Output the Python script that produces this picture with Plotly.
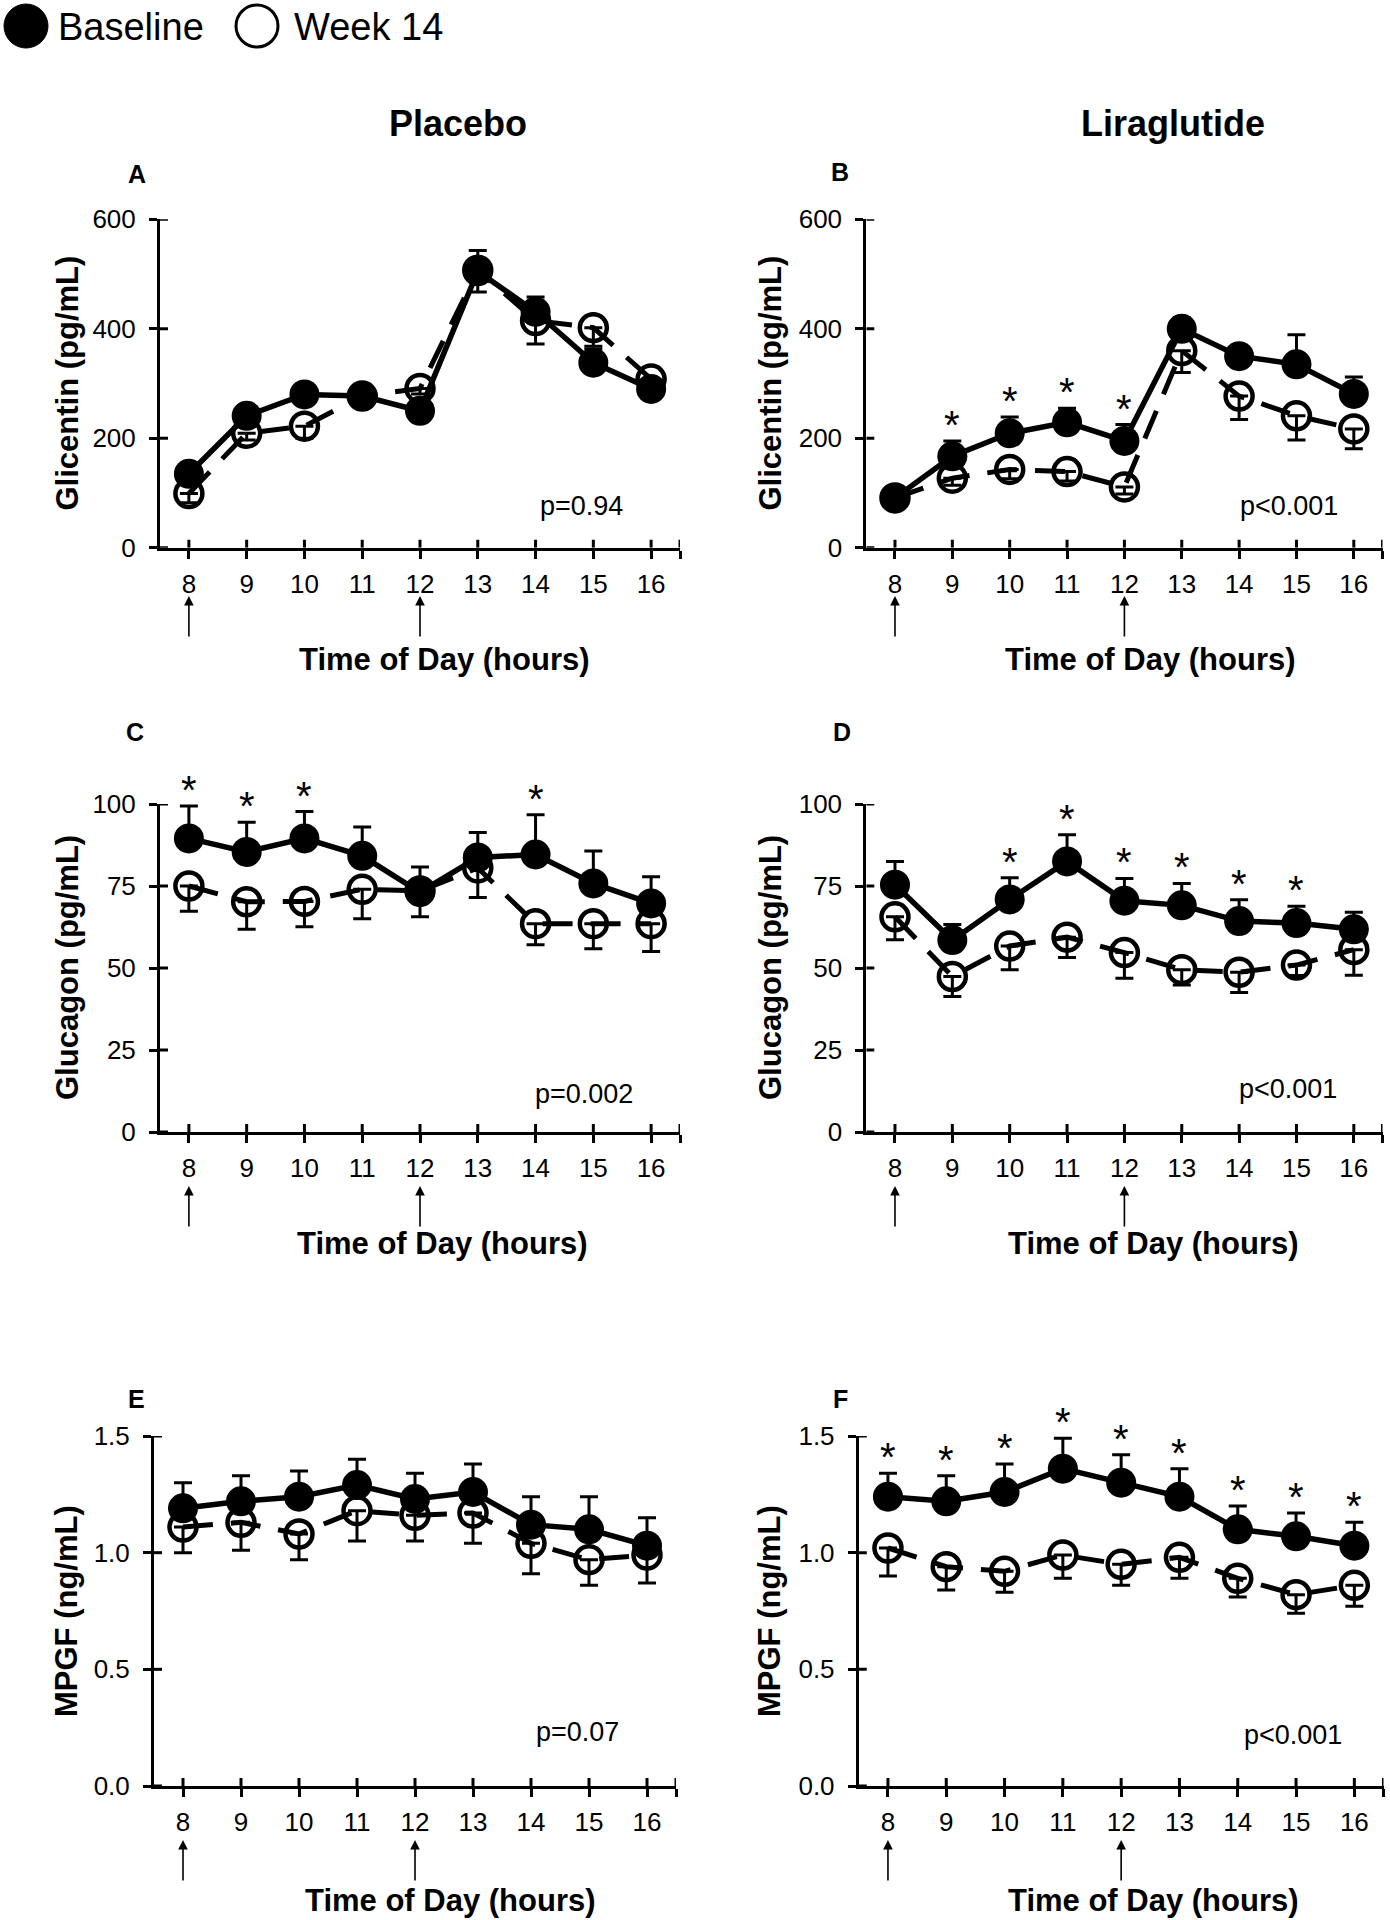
import plotly.graph_objects as go

# ---------------- data ----------------
hours = [8, 9, 10, 11, 12, 13, 14, 15, 16]
hour_labels = ["8", "9", "10", "11", "12", "13", "14", "15", "16"]

# Glicentin (pg/mL)
glic_pla_base = [135, 241, 280, 277, 250, 505, 431, 338, 290]
glic_pla_base_err = [12, 12, 20, 18, 10, 38, 27, 25, 15]
glic_pla_wk14 = [99, 209, 222, 277, 291, 507, 415, 402, 308]
glic_pla_wk14_err = [17, 12, 22, 10, 10, 40, 43, 34, 12]

glic_lira_base = [91, 167, 209, 229, 195, 400, 350, 335, 281]
glic_lira_base_err = [10, 28, 30, 26, 30, 20, 20, 54, 31]
glic_lira_wk14 = [91, 127, 143, 139, 111, 360, 277, 241, 217]
glic_lira_wk14_err = [8, 13, 17, 17, 13, 40, 43, 44, 36]

# Glucagon (pg/mL)
gluc_pla_base = [89.5, 85.4, 89.5, 84.2, 73.1, 83.7, 84.6, 75.8, 69.7]
gluc_pla_base_err = [9.9, 9.0, 8.2, 8.8, 7.7, 7.6, 12.1, 9.9, 8.1]
gluc_pla_wk14 = [75.0, 70.2, 70.3, 74.0, 73.5, 80.5, 63.5, 63.5, 63.5]
gluc_pla_wk14_err = [7.7, 8.4, 7.7, 9.0, 7.9, 9.0, 6.4, 7.6, 8.5]

gluc_lira_base = [75.4, 58.5, 70.9, 82.5, 70.5, 69.1, 64.3, 63.7, 61.8]
gluc_lira_base_err = [7.1, 4.8, 6.6, 8.1, 6.8, 6.7, 6.5, 5.1, 5.2]
gluc_lira_wk14 = [65.6, 47.4, 56.7, 59.4, 54.7, 49.5, 48.7, 50.9, 55.6]
gluc_lira_wk14_err = [7.0, 6.1, 7.2, 6.2, 7.8, 4.7, 6.2, 3.2, 7.8]

# MPGF (ng/mL)
mpgf_pla_base = [1.19, 1.22, 1.24, 1.29, 1.23, 1.26, 1.12, 1.10, 1.03]
mpgf_pla_base_err = [0.11, 0.11, 0.11, 0.11, 0.11, 0.12, 0.12, 0.14, 0.12]
mpgf_pla_wk14 = [1.11, 1.13, 1.08, 1.18, 1.16, 1.17, 1.04, 0.97, 0.99]
mpgf_pla_wk14_err = [0.11, 0.12, 0.11, 0.13, 0.11, 0.13, 0.13, 0.11, 0.12]

mpgf_lira_base = [1.24, 1.22, 1.26, 1.36, 1.30, 1.24, 1.10, 1.07, 1.03]
mpgf_lira_base_err = [0.10, 0.11, 0.12, 0.13, 0.12, 0.12, 0.10, 0.10, 0.10]
mpgf_lira_wk14 = [1.02, 0.94, 0.92, 0.99, 0.95, 0.98, 0.89, 0.82, 0.86]
mpgf_lira_wk14_err = [0.12, 0.10, 0.09, 0.10, 0.09, 0.09, 0.08, 0.08, 0.09]

# significance markers (hours with *) and p-values
stars_A = []
stars_B = [9, 10, 11, 12]
stars_C = [8, 9, 10, 14]
stars_D = [10, 11, 12, 13, 14, 15]
stars_E = []
stars_F = [8, 9, 10, 11, 12, 13, 14, 15, 16]
p_values = ["p=0.94", "p<0.001", "p=0.002", "p<0.001", "p=0.07", "p<0.001"]

column_titles = ["Placebo", "Liraglutide"]
panel_letters = ["A", "B", "C", "D", "E", "F"]
y_titles = ["Glicentin (pg/mL)", "Glicentin (pg/mL)", "Glucagon (pg/mL)",
            "Glucagon (pg/mL)", "MPGF (ng/mL)", "MPGF (ng/mL)"]
x_title = "Time of Day (hours)"
legend_labels = ["Baseline", "Week 14"]
arrow_hours = [8, 12]

# ---------------- layout helpers ----------------
W, H = 1390, 1920
FONT = "Liberation Sans, Arial, sans-serif"


def PX(x):
    return x / W


def PY(y):
    return 1 - y / H


panels = [
    dict(base=glic_pla_base, be=glic_pla_base_err, wk=glic_pla_wk14, we=glic_pla_wk14_err,
         stars=stars_A, yr=[0, 600], yt=[0, 200, 400, 600], fmt="",
         box=(160, 680, 219.3, 547.7), letter=(137, 174), ytl=67, xtl=(444, 659),
         pv=(581, 506), arrow=596),
    dict(base=glic_lira_base, be=glic_lira_base_err, wk=glic_lira_wk14, we=glic_lira_wk14_err,
         stars=stars_B, yr=[0, 600], yt=[0, 200, 400, 600], fmt="",
         box=(866.3, 1382.5, 219.3, 547.7), letter=(840, 172), ytl=770, xtl=(1150, 659),
         pv=(1289, 506), arrow=596),
    dict(base=gluc_pla_base, be=gluc_pla_base_err, wk=gluc_pla_wk14, we=gluc_pla_wk14_err,
         stars=stars_C, yr=[0, 100], yt=[0, 25, 50, 75, 100], fmt="",
         box=(160, 680, 804, 1132), letter=(135, 732), ytl=67, xtl=(442, 1243),
         pv=(584, 1094), arrow=1186),
    dict(base=gluc_lira_base, be=gluc_lira_base_err, wk=gluc_lira_wk14, we=gluc_lira_wk14_err,
         stars=stars_D, yr=[0, 100], yt=[0, 25, 50, 75, 100], fmt="",
         box=(866.3, 1382.5, 804, 1132), letter=(842, 732), ytl=770, xtl=(1153, 1243),
         pv=(1288, 1089), arrow=1186),
    dict(base=mpgf_pla_base, be=mpgf_pla_base_err, wk=mpgf_pla_wk14, we=mpgf_pla_wk14_err,
         stars=stars_E, yr=[0, 1.5], yt=[0, 0.5, 1.0, 1.5], fmt=".1f",
         box=(154, 676, 1436, 1786), letter=(136, 1399), ytl=66, xtl=(450, 1900),
         pv=(577.5, 1732), arrow=1840),
    dict(base=mpgf_lira_base, be=mpgf_lira_base_err, wk=mpgf_lira_wk14, we=mpgf_lira_wk14_err,
         stars=stars_F, yr=[0, 1.5], yt=[0, 0.5, 1.0, 1.5], fmt=".1f",
         box=(858.8, 1383.5, 1436, 1786), letter=(840, 1399), ytl=769, xtl=(1153, 1900),
         pv=(1293, 1735), arrow=1840),
]

fig = go.Figure()
annotations = []
shapes = []
layout = dict()

XR = [7.5, 16.5]
x_tickvals = hours + [16.5]
x_ticktext = hour_labels + [""]

for i, p in enumerate(panels):
    n = "" if i == 0 else str(i + 1)
    xa, ya = "x" + n, "y" + n
    x0, x1, yt, yb = p["box"]

    # week 14 (open circles, dashed) drawn first
    fig.add_trace(go.Scatter(
        x=hours, y=p["wk"], xaxis=xa, yaxis=ya, mode="lines+markers",
        line=dict(color="black", width=5, dash="30px,18px"),
        marker=dict(symbol="circle-open", size=27, color="black", line=dict(width=4.5, color="black")),
        error_y=dict(type="data", symmetric=False, array=[0] * len(hours), arrayminus=p["we"],
                     color="black", thickness=3, width=9),
        showlegend=False, cliponaxis=False))
    # baseline (filled circles, solid)
    fig.add_trace(go.Scatter(
        x=hours, y=p["base"], xaxis=xa, yaxis=ya, mode="lines+markers",
        line=dict(color="black", width=5.5),
        marker=dict(symbol="circle", size=30, color="black"),
        error_y=dict(type="data", symmetric=False, array=p["be"], arrayminus=[0] * len(hours),
                     color="black", thickness=3, width=9),
        showlegend=False, cliponaxis=False))

    layout["xaxis" + n] = dict(
        domain=[PX(x0), PX(x1)], anchor=ya, range=XR, showgrid=False, zeroline=False,
        showline=True, linecolor="black", linewidth=3, automargin=False,
        tickmode="array", tickvals=x_tickvals, ticktext=x_ticktext,
        ticks="outside", ticklen=8, tickwidth=3, tickcolor="black",
        tickfont=dict(family=FONT, size=26, color="black"), ticklabelstandoff=3)
    layout["yaxis" + n] = dict(
        domain=[PY(yb), PY(yt)], anchor=xa, range=p["yr"], showgrid=False, zeroline=False,
        showline=True, linecolor="black", linewidth=3, automargin=False,
        tickmode="array", tickvals=p["yt"], tickformat=p["fmt"],
        ticks="outside", ticklen=8, tickwidth=3, tickcolor="black",
        tickfont=dict(family=FONT, size=26, color="black"), ticklabelstandoff=8)

    # inner halves of the crossing tick marks
    for v in p["yt"]:
        shapes.append(dict(type="line", xref=xa, yref=ya, xsizemode="pixel", xanchor=XR[0],
                           x0=0, x1=8, y0=v, y1=v, line=dict(color="black", width=3)))
    for h in x_tickvals:
        shapes.append(dict(type="line", xref=xa, yref=ya, ysizemode="pixel", yanchor=p["yr"][0],
                           y0=0, y1=8, x0=h, x1=h, line=dict(color="black", width=3)))

    # asterisks above baseline error bars
    for h in p["stars"]:
        k = hours.index(h)
        annotations.append(dict(x=h, y=p["base"][k] + p["be"][k], xref=xa, yref=ya, text="*",
                                showarrow=False, yanchor="bottom", yshift=-8,
                                font=dict(family=FONT, size=40, color="black")))

    # meal arrows under the x axis
    for h in arrow_hours:
        annotations.append(dict(x=h, y=PY(p["arrow"]), xref=xa, yref="paper", text="",
                                showarrow=True, ax=0, ay=42, arrowhead=2, arrowsize=1.2,
                                arrowwidth=1.6, arrowcolor="black"))

    # p-value
    annotations.append(dict(x=PX(p["pv"][0]), y=PY(p["pv"][1]), xref="paper", yref="paper",
                            text=p_values[i], showarrow=False, xanchor="center", yanchor="middle",
                            font=dict(family=FONT, size=27, color="black")))
    # panel letter
    annotations.append(dict(x=PX(p["letter"][0]), y=PY(p["letter"][1]), xref="paper", yref="paper",
                            text=panel_letters[i], showarrow=False, xanchor="center", yanchor="middle",
                            font=dict(family=FONT, size=25, color="black", weight="bold")))
    # axis titles
    annotations.append(dict(x=PX(p["xtl"][0]), y=PY(p["xtl"][1]), xref="paper", yref="paper",
                            text=x_title, showarrow=False, xanchor="center", yanchor="middle",
                            font=dict(family=FONT, size=31, color="black", weight="bold")))
    annotations.append(dict(x=PX(p["ytl"]), y=PY((yt + yb) / 2), xref="paper", yref="paper",
                            text=y_titles[i], showarrow=False, textangle=-90,
                            xanchor="center", yanchor="middle",
                            font=dict(family=FONT, size=31, color="black", weight="bold")))

# column titles
for t, cx in zip(column_titles, [458, 1173]):
    annotations.append(dict(x=PX(cx), y=PY(123), xref="paper", yref="paper", text=t,
                            showarrow=False, xanchor="center", yanchor="middle",
                            font=dict(family=FONT, size=36, color="black", weight="bold")))

# legend
shapes.append(dict(type="circle", xref="paper", yref="paper", x0=PX(4), x1=PX(48), y0=PY(48), y1=PY(4),
                   fillcolor="black", line=dict(color="black", width=1)))
shapes.append(dict(type="circle", xref="paper", yref="paper", x0=PX(236), x1=PX(278), y0=PY(47), y1=PY(5),
                   fillcolor="rgba(0,0,0,0)", line=dict(color="black", width=3)))
for t, lx in zip(legend_labels, [56, 292]):
    annotations.append(dict(x=PX(lx), y=PY(27), xref="paper", yref="paper", text=t,
                            showarrow=False, xanchor="left", yanchor="middle",
                            font=dict(family=FONT, size=38, color="black")))

fig.update_layout(width=W, height=H, margin=dict(l=0, r=0, t=0, b=0, pad=0, autoexpand=False),
                  paper_bgcolor="white", plot_bgcolor="white",
                  annotations=annotations, shapes=shapes, showlegend=False, **layout)

fig.write_html("out.html", config={"displayModeBar": False},
               post_script="document.body.style.margin='0';document.body.style.padding='0';")
